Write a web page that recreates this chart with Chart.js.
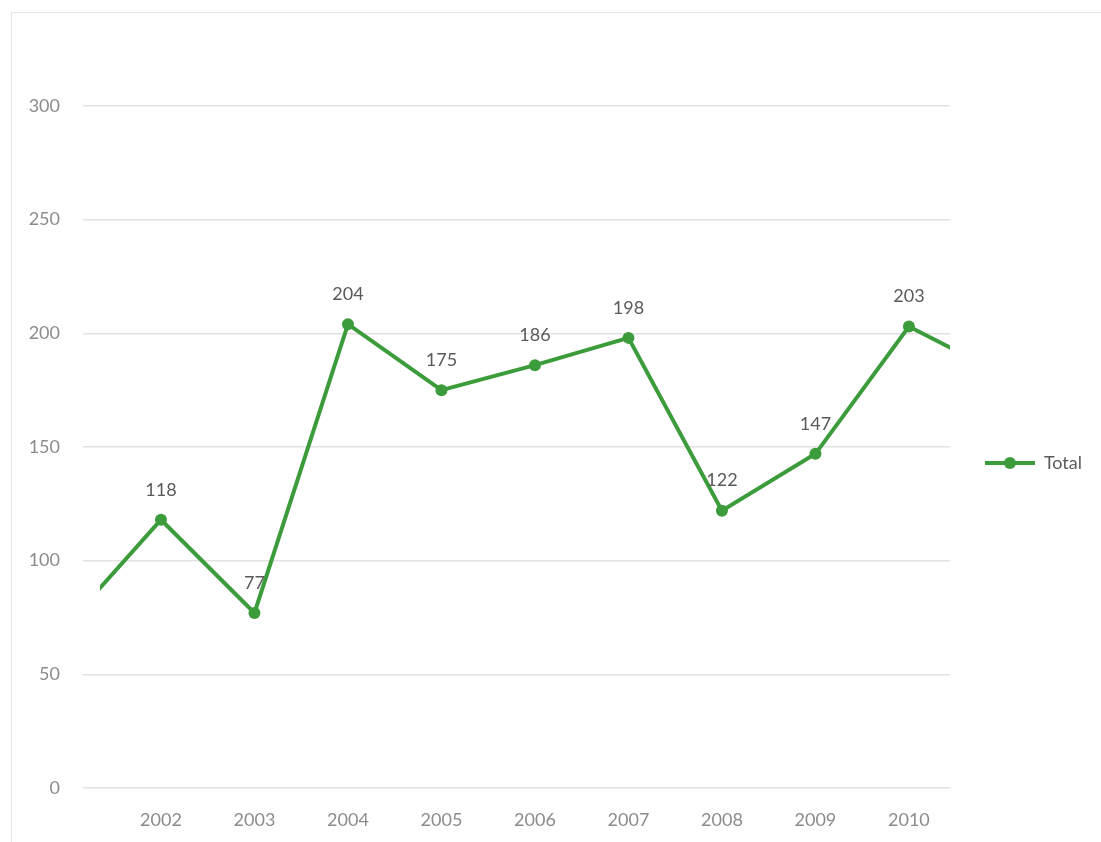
<!DOCTYPE html>
<html>
<head>
	<meta charset="utf-8">
	<script src="https://cdn.jsdelivr.net/npm/chart.js@4/dist/chart.umd.min.js"></script>
	<style>
		body{margin:0;overflow:hidden;background:#fff;}
		#frame{position:absolute;left:11px;top:12px;width:1200px;height:1000px;border:1.5px solid #e4e4e4;pointer-events:none;}
	</style>
</head>
<body>
	<div style="position:relative;width:1101px;height:842px;">
		<canvas id="lineChart" width="1101" height="842"></canvas>
		<div id="frame"></div>
	</div>
<script>
	// years 2001 and 2011 sit just outside the visible area (line runs off both edges)
	var years = [2001,2002,2003,2004,2005,2006,2007,2008,2009,2010,2011];
	var totals = [72,118,77,204,175,186,198,122,147,203,182];
	var yTicks = [0,50,100,150,200,250,300];
	var firstLabelYear = 2002;
	var lastLabelYear = 2010;

	var green = "#3c9c3c";

	// legend marker: line with a dot in the middle
	var marker = document.createElement("canvas");
	marker.width = 50;
	marker.height = 14;
	var mctx = marker.getContext("2d");
	mctx.strokeStyle = green;
	mctx.lineWidth = 4;
	mctx.beginPath();
	mctx.moveTo(0,7);
	mctx.lineTo(50,7);
	mctx.stroke();
	mctx.fillStyle = green;
	mctx.beginPath();
	mctx.arc(25,7,6,0,Math.PI*2);
	mctx.fill();

	var points = [];
	for(var i = 0;i<years.length;i++){
		points.push({x:years[i],y:totals[i]});
	}

	var valueLabels = {
		id:"valueLabels",
		afterDatasetsDraw:function(chart){
			var ctx = chart.ctx;
			var meta = chart.getDatasetMeta(0);
			ctx.save();
			ctx.font = "18px Lato";
			ctx.fillStyle = "#5a5a5a";
			ctx.textAlign = "center";
			ctx.textBaseline = "middle";
			for(var i = 0;i<meta.data.length;i++){
				if(years[i]<firstLabelYear || years[i]>lastLabelYear) continue;
				var pt = meta.data[i];
				ctx.fillText(String(totals[i]),pt.x,pt.y-30);
			}
			ctx.restore();
		}
	};

	var moveLegend = {
		id:"moveLegend",
		beforeDraw:function(chart){
			if(chart.legend && !chart.legend._moved){
				chart.legend.top -= 11;
				chart.legend.bottom -= 11;
				chart.legend._moved = true;
			}
		}
	};

	var target = document.querySelector("#lineChart").getContext("2d");
	var chart = new Chart(target,{
		type:"line",
		data:{
			datasets:[{
				label:"Total",
				data:points,
				borderColor:green,
				backgroundColor:green,
				borderWidth:4,
				pointRadius:6,
				pointHoverRadius:6,
				pointBackgroundColor:green,
				pointBorderWidth:0,
				tension:0,
				clip:{left:-17,right:0,top:false,bottom:false}
			}]
		},
		options:{
			responsive:false,
			animation:false,
			layout:{padding:{top:106,left:0,right:9,bottom:0}},
			plugins:{
				tooltip:{enabled:false},
				legend:{
					position:"right",
					labels:{
						usePointStyle:true,
						pointStyle:marker,
						pointStyleWidth:50,
						padding:35,
						color:"#5a5a5a",
						font:{family:"Lato",size:18}
					}
				}
			},
			scales:{
				x:{
					type:"linear",
					min:2001.166,
					max:2010.438,
					grid:{display:false},
					border:{display:false},
					afterFit:function(scale){scale.height = 54;},
					ticks:{
						stepSize:1,
						includeBounds:false,
						padding:13,
						color:"#8c8c8c",
						font:{family:"Lato",size:18},
						callback:function(v){return String(v);}
					}
				},
				y:{
					min:yTicks[0],
					max:yTicks[yTicks.length-1],
					grid:{color:"#e2e2e2",lineWidth:1.5,drawTicks:false},
					border:{display:false},
					afterFit:function(scale){scale.width = 83;},
					ticks:{
						stepSize:50,
						padding:23,
						color:"#8c8c8c",
						font:{family:"Lato",size:18}
					}
				}
			}
		},
		plugins:[valueLabels,moveLegend]
	});
</script>
</body>
</html>
